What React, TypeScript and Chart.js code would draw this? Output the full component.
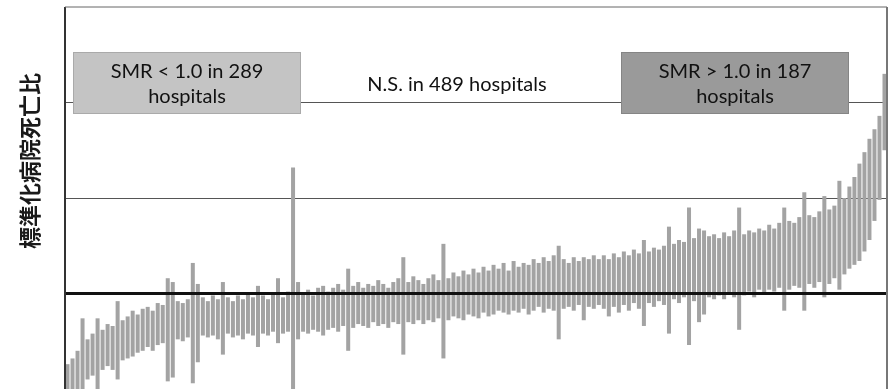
import React, { useEffect, useRef } from "react";
import { Chart, registerables } from "chart.js";

Chart.register(...registerables);

// Upper and lower 95% CI of SMR per (sampled) hospital, sorted by SMR
const upperCI = [
  0.63, 0.66, 0.70, 0.87, 0.76, 0.79, 0.87, 0.81, 0.84, 0.83,
  0.96, 0.86, 0.88, 0.91, 0.89, 0.92, 0.93, 0.91, 0.95, 0.94,
  1.08, 1.06, 0.96, 0.95, 0.97, 1.16, 1.05, 0.98, 0.96, 0.99,
  0.97, 1.06, 0.98, 0.96, 0.99, 0.97, 1.00, 0.98, 1.04, 0.99,
  0.97, 1.00, 1.08, 0.98, 1.01, 1.66, 1.06, 1.00, 1.02, 0.99,
  1.03, 1.04, 1.01, 1.03, 1.05, 1.02, 1.13, 1.04, 1.06, 1.03,
  1.05, 1.04, 1.07, 1.05, 1.03, 1.06, 1.08, 1.19, 1.06, 1.09,
  1.07, 1.05, 1.08, 1.10, 1.07, 1.26, 1.08, 1.11, 1.09, 1.12,
  1.10, 1.13, 1.11, 1.14, 1.12, 1.15, 1.13, 1.16, 1.12, 1.17,
  1.14, 1.16, 1.15, 1.18, 1.16, 1.19, 1.17, 1.20, 1.25, 1.18,
  1.16, 1.19, 1.17, 1.19, 1.18, 1.20, 1.18, 1.20, 1.18, 1.21,
  1.19, 1.22, 1.20, 1.23, 1.21, 1.28, 1.22, 1.24, 1.23, 1.25,
  1.35, 1.26, 1.28, 1.27, 1.45, 1.29, 1.34, 1.33, 1.30, 1.31,
  1.29, 1.32, 1.30, 1.33, 1.45, 1.31, 1.33, 1.32, 1.34, 1.33,
  1.36, 1.34, 1.37, 1.45, 1.38, 1.37, 1.40, 1.53, 1.41, 1.40,
  1.43, 1.51, 1.44, 1.46, 1.59, 1.50, 1.56, 1.61, 1.68, 1.74,
  1.81, 1.86, 1.93, 2.15,
];

const lowerCI = [
  0.44, 0.45, 0.47, 0.49, 0.55, 0.57, 0.49, 0.60, 0.62, 0.60,
  0.55, 0.65, 0.66, 0.67, 0.69, 0.70, 0.72, 0.70, 0.73, 0.74,
  0.54, 0.56, 0.76, 0.75, 0.77, 0.53, 0.64, 0.78, 0.77, 0.78,
  0.76, 0.68, 0.79, 0.77, 0.78, 0.76, 0.79, 0.78, 0.72, 0.79,
  0.78, 0.80, 0.74, 0.79, 0.80, 0.50, 0.76, 0.80, 0.79, 0.81,
  0.80, 0.78, 0.81, 0.82, 0.80, 0.83, 0.70, 0.82, 0.84, 0.83,
  0.82, 0.85, 0.83, 0.84, 0.82, 0.85, 0.84, 0.68, 0.85, 0.84,
  0.86, 0.84, 0.86, 0.85, 0.87, 0.66, 0.86, 0.88, 0.87, 0.86,
  0.89, 0.88, 0.87, 0.90, 0.88, 0.89, 0.91, 0.90, 0.89, 0.91,
  0.90, 0.92, 0.89, 0.91, 0.93, 0.90, 0.92, 0.91, 0.76, 0.92,
  0.93, 0.91, 0.94, 0.86, 0.93, 0.92, 0.94, 0.92, 0.88, 0.93,
  0.90, 0.94, 0.91, 0.95, 0.92, 0.83, 0.95, 0.93, 0.96, 0.94,
  0.79, 0.97, 0.95, 0.98, 0.73, 0.96, 0.85, 0.89, 0.98, 0.97,
  0.99, 0.97, 1.00, 0.98, 0.81, 0.99, 1.01, 0.98, 1.02, 1.00,
  1.02, 1.01, 1.03, 0.91, 1.02, 1.04, 1.03, 0.91, 1.05, 1.03,
  1.06, 0.98, 1.05, 1.08, 1.02, 1.10, 1.13, 1.15, 1.17, 1.22,
  1.28, 1.38, 1.49, 1.75,
];

const yTicks = [0.5, 1.0, 1.5, 2.0, 2.5];
const yTitle = "標準化病院死亡比";
const boxLow = ["SMR < 1.0 in 289", "hospitals"];
const boxMid = "N.S. in 489 hospitals";
const boxHigh = ["SMR > 1.0 in 187", "hospitals"];

const FONT = '20px Lato, "Open Sans", sans-serif';

const overlay = {
  id: "overlay",
  afterDatasetsDraw(chart: any) {
    const { ctx, chartArea } = chart;
    const y = chart.scales.y;
    ctx.save();
    // reference line SMR = 1.0
    const y1 = y.getPixelForValue(1.0);
    ctx.strokeStyle = "#111";
    ctx.lineWidth = 3;
    ctx.beginPath();
    ctx.moveTo(chartArea.left, y1);
    ctx.lineTo(chartArea.right, y1);
    ctx.stroke();
    // frame
    ctx.strokeStyle = "#333";
    ctx.lineWidth = 2;
    ctx.beginPath();
    ctx.moveTo(chartArea.left, chartArea.bottom);
    ctx.lineTo(chartArea.left, chartArea.top);
    ctx.stroke();
    ctx.strokeStyle = "#666";
    ctx.lineWidth = 1;
    ctx.beginPath();
    ctx.moveTo(chartArea.left, chartArea.top);
    ctx.lineTo(chartArea.right, chartArea.top);
    ctx.stroke();
    ctx.strokeStyle = "#777";
    ctx.lineWidth = 2;
    ctx.beginPath();
    ctx.moveTo(chartArea.right, chartArea.top);
    ctx.lineTo(chartArea.right, chartArea.bottom);
    ctx.stroke();

    // annotation boxes
    const drawBox = (x0: number, x1: number, fill: string, edge: string, lines: string[]) => {
      ctx.fillStyle = fill;
      ctx.fillRect(x0, 52, x1 - x0, 62);
      ctx.strokeStyle = edge;
      ctx.lineWidth = 1;
      ctx.strokeRect(x0 + 0.5, 52.5, x1 - x0 - 1, 61);
      ctx.fillStyle = "#111";
      ctx.font = FONT;
      ctx.textAlign = "center";
      ctx.textBaseline = "middle";
      const cx = (x0 + x1) / 2;
      ctx.fillText(lines[0], cx, 72);
      ctx.fillText(lines[1], cx, 97);
    };
    drawBox(73, 301, "#c4c4c4", "#aaaaaa", boxLow);
    drawBox(621, 849, "#9a9a9a", "#858585", boxHigh);
    ctx.fillStyle = "#111";
    ctx.font = FONT;
    ctx.textAlign = "center";
    ctx.textBaseline = "middle";
    ctx.fillText(boxMid, 457, 85);

    // y title
    ctx.translate(30, 161);
    ctx.rotate(-Math.PI / 2);
    ctx.font = '600 22px "Noto Sans CJK JP", sans-serif';
    ctx.fillStyle = "#1a1a1a";
    ctx.fillText(yTitle, 0, 0);
    ctx.restore();
  },
};

export default function App() {
  const ref = useRef<HTMLCanvasElement | null>(null);
  useEffect(() => {
    if (!ref.current) return;
    const labels = upperCI.map((_, i) => String(i + 1));
    const chart = new Chart(ref.current, {
      type: "bar",
      data: {
        labels,
        datasets: [
          {
            data: upperCI.map((u, i) => [lowerCI[i], u]) as any,
            backgroundColor: "#a3a3a3",
            borderWidth: 0,
            barPercentage: 0.8,
            categoryPercentage: 1.0,
          },
        ],
      },
      options: {
        animation: false,
        responsive: false,
        maintainAspectRatio: false,
        layout: { padding: { left: 0, right: 5, top: 7, bottom: 0 } },
        plugins: { legend: { display: false }, tooltip: { enabled: false }, title: { display: false } },
        scales: {
          x: { display: false, offset: true },
          y: {
            min: 0.5,
            max: 2.5,
            afterBuildTicks: (s: any) => {
              s.ticks = yTicks.map((v) => ({ value: v }));
            },
            afterFit: (s: any) => {
              s.width = 65;
            },
            ticks: { display: false },
            border: { display: false },
            grid: {
              drawTicks: false,
              color: (c: any) =>
                c.tick && (c.tick.value === 2.0 || c.tick.value === 1.5) ? "#555" : "rgba(0,0,0,0)",
              lineWidth: 1,
            },
          },
        },
      },
      plugins: [overlay],
    });
    return () => chart.destroy();
  }, []);
  return (
    <div style={{ position: "fixed", left: 0, top: 0, width: 892, height: 389, background: "#fff" }}>
      <canvas ref={ref} width={892} height={389} style={{ display: "block" }} />
    </div>
  );
}
